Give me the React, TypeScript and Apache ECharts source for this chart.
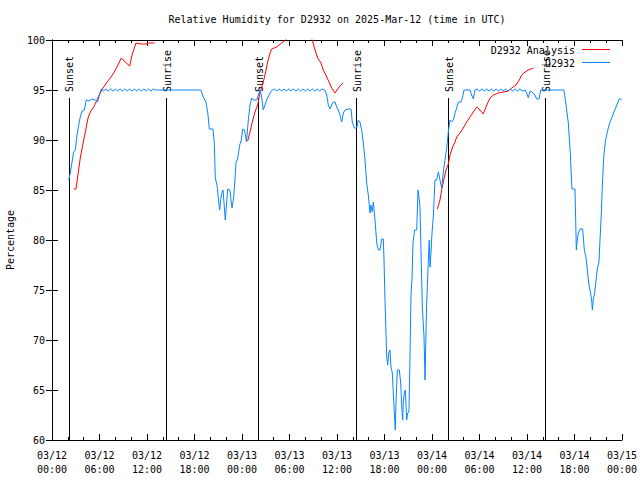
import React, { useEffect, useRef } from 'react';
import * as echarts from 'echarts';

const FONT = '"DejaVu Sans Mono", "Liberation Mono", monospace';

const titleText = 'Relative Humidity for D2932 on 2025-Mar-12 (time in UTC)';
const yAxisName = 'Percentage';
const monthLabel = '03';
const startDay = 12;
const xMin = 0;
const xMax = 72;
const yMin = 60;
const yMax = 100;

const seriesNames = ['D2932 Analysis', 'D2932'];

// sunrise / sunset events: hours since 03/12 00:00 UTC
const sunHours = [2.1, 14.43, 26.06, 38.42, 50.06, 62.3];
const sunLabels = ['Sunset', 'Sunrise', 'Sunset', 'Sunrise', 'Sunset', 'Sunrise'];
const sunLineTop = 94.2;

// D2932 Analysis (hours, %) – three separate runs
const analysisRun1: [number, number][] = [
  [2.74, 85.1], [3.03, 85.1], [3.28, 86.5], [3.57, 88.2], [3.88, 89.5], [4.21, 90.8],
  [4.55, 92.2], [4.84, 92.8], [5.27, 93.3], [5.68, 94.0], [6.1, 94.7], [6.53, 95.3],
  [6.95, 95.8], [7.36, 96.2], [7.79, 96.7], [8.21, 97.3], [8.75, 98.2], [9.26, 97.8],
  [9.81, 97.4], [10.11, 98.5], [10.61, 99.7], [11.28, 99.6], [12.0, 99.6], [12.21, 99.7],
  [12.97, 99.7],
];
const analysisRun2: [number, number][] = [
  [24.72, 89.9], [25.01, 90.8], [25.3, 91.8], [25.64, 92.8], [25.98, 93.5], [26.27, 94.7],
  [26.69, 95.8], [26.99, 96.8], [27.25, 97.8], [27.54, 98.7], [27.75, 99.1], [28.38, 99.3],
  [29.01, 99.7], [29.65, 100.1], [30.32, 100.6], [31.07, 100.9], [31.83, 100.7], [32.59, 100.3],
  [32.88, 100.0], [33.22, 99.0], [33.56, 98.2], [33.98, 97.7], [34.27, 97.0], [34.7, 96.3],
  [34.99, 95.8], [35.33, 95.2], [35.75, 94.7], [36.09, 95.1], [36.47, 95.5], [36.8, 95.7],
];
const analysisRun3: [number, number][] = [
  [48.67, 83.1], [49.01, 84.0], [49.22, 85.0], [49.43, 85.8], [49.77, 87.0], [50.06, 87.6],
  [50.27, 88.5], [50.61, 89.3], [50.91, 89.8], [51.12, 90.3], [51.54, 90.7], [51.95, 91.2],
  [52.38, 91.8], [52.8, 92.3], [53.22, 92.8], [53.65, 93.3], [54.06, 93.0], [54.48, 92.6],
  [54.91, 93.5], [55.33, 94.2], [55.75, 94.5], [56.38, 94.7], [57.01, 94.8], [57.64, 94.9],
  [58.07, 95.2], [58.61, 95.5], [59.03, 96.0], [59.33, 96.5], [59.75, 96.8], [60.17, 97.0],
  [60.8, 97.2],
];

// D2932 observations (hours, %)
const observations: [number, number][] = [
  [2.11, 86.0], [2.31, 86.7], [2.53, 87.8], [2.74, 88.8], [2.94, 89.0], [3.16, 90.5],
  [3.37, 91.5], [3.57, 92.3], [3.79, 92.9], [4.08, 93.0], [4.33, 94.0], [4.64, 93.9],
  [5.05, 94.1], [5.47, 94.0], [5.77, 93.8], [5.97, 94.5], [6.23, 95.1],
  [6.5, 94.9], [6.8, 95.1], [7.1, 94.9], [7.4, 95.1], [7.7, 94.9], [8.0, 95.1], [8.3, 94.9],
  [8.6, 95.1], [8.9, 94.9], [9.2, 95.1], [9.5, 94.9], [9.8, 95.1], [10.1, 94.9], [10.4, 95.1],
  [10.7, 94.9], [11.0, 95.1], [11.3, 94.9], [11.6, 95.1], [11.9, 94.9], [12.2, 95.1],
  [12.5, 94.9], [12.8, 95.1], [13.1, 95.0], [18.8, 95.0],
  [19.16, 94.2], [19.45, 93.8], [19.71, 92.5], [19.87, 91.1], [20.34, 91.1], [20.5, 89.7],
  [20.63, 86.2], [20.84, 85.5], [21.06, 83.8], [21.18, 83.0], [21.35, 84.3], [21.47, 84.7],
  [21.6, 85.0], [21.73, 83.7], [21.89, 82.0], [22.02, 83.3], [22.19, 85.1], [22.48, 85.0],
  [22.61, 84.0], [22.74, 83.2], [22.95, 84.3], [23.08, 85.7], [23.24, 87.7], [23.46, 88.2],
  [23.71, 89.5], [23.91, 90.0], [24.09, 91.1], [24.32, 91.0], [24.57, 89.8], [24.8, 92.0],
  [25.01, 93.5], [25.23, 94.2], [25.43, 94.0], [25.86, 94.0], [26.06, 94.5], [26.27, 95.0],
  [26.46, 94.4], [26.69, 93.0], [26.9, 93.5], [27.12, 94.0], [27.54, 94.7], [27.83, 95.0],
  [28.1, 95.1], [28.4, 94.9], [28.7, 95.1], [29.0, 94.9], [29.3, 95.1], [29.6, 94.9],
  [29.9, 95.1], [30.2, 94.9], [30.5, 95.1], [30.8, 94.9], [31.1, 95.1], [31.4, 94.9],
  [31.7, 95.1], [32.0, 94.9], [32.3, 95.1], [32.6, 94.9], [32.9, 95.1], [33.2, 94.9],
  [33.5, 95.1], [33.8, 94.9], [34.1, 95.1], [34.45, 95.0],
  [34.7, 94.5], [34.9, 93.5], [35.12, 93.1], [35.33, 93.5], [35.53, 93.8], [35.75, 93.8],
  [35.96, 93.3], [36.16, 93.0], [36.38, 92.5], [36.59, 91.8], [36.8, 92.7], [37.01, 93.0],
  [37.43, 93.1], [37.77, 93.1], [37.93, 91.8], [38.19, 91.2], [38.49, 91.2], [38.69, 92.0],
  [38.9, 91.8], [39.12, 91.0], [39.32, 89.7], [39.54, 88.0], [39.75, 85.7], [39.95, 84.5],
  [40.17, 82.7], [40.29, 83.5], [40.46, 82.8], [40.59, 83.8], [40.8, 82.0], [41.02, 79.7],
  [41.22, 79.0], [41.43, 79.0], [41.65, 80.1], [41.85, 80.1], [41.94, 78.0], [42.06, 74.0],
  [42.19, 70.7], [42.28, 68.3], [42.4, 67.5], [42.53, 68.7], [42.69, 69.0], [42.82, 67.3],
  [42.99, 66.7], [43.11, 64.7], [43.24, 62.7], [43.36, 61.0], [43.45, 63.7], [43.62, 67.0],
  [43.87, 67.0], [44.05, 65.7], [44.17, 63.5], [44.3, 62.0], [44.37, 63.7], [44.5, 64.7],
  [44.63, 65.0], [44.8, 62.0], [44.93, 62.7], [45.09, 62.8], [45.22, 68.3], [45.35, 74.7],
  [45.47, 76.0], [45.6, 79.7], [45.81, 81.0], [46.07, 81.0], [46.23, 85.0], [46.36, 84.3],
  [46.48, 83.3], [46.61, 79.0], [46.78, 73.3], [46.99, 70.3], [47.12, 66.0], [47.21, 69.7],
  [47.33, 73.7], [47.46, 76.3], [47.59, 79.0], [47.66, 80.0], [47.75, 77.3], [47.87, 78.7],
  [48.0, 80.7], [48.16, 82.3], [48.38, 86.0], [48.59, 86.0], [48.8, 86.8], [49.01, 86.0],
  [49.22, 85.2], [49.43, 86.8], [49.64, 88.0], [49.86, 89.2], [50.06, 90.8], [50.27, 92.0],
  [50.48, 91.8], [50.69, 92.0], [50.91, 92.7], [51.12, 93.2], [51.32, 93.8], [51.66, 93.8],
  [51.83, 94.2], [52.04, 95.0], [52.8, 95.0], [53.01, 94.5], [53.22, 94.1], [53.43, 95.0],
  [53.7, 95.1], [54.0, 94.9], [54.3, 95.1], [54.6, 94.9], [54.9, 95.1], [55.2, 94.9],
  [55.5, 95.1], [55.8, 94.9], [56.1, 95.1], [56.4, 94.9], [56.7, 95.1], [57.0, 94.9],
  [57.3, 95.1], [57.6, 94.9], [57.9, 95.1], [58.2, 94.9], [58.5, 95.1], [58.8, 94.9],
  [59.1, 95.1], [59.4, 94.9], [59.75, 95.0],
  [59.96, 94.7], [60.17, 94.2], [60.38, 94.9], [60.63, 94.8], [61.0, 94.5], [61.22, 94.1],
  [61.52, 94.1], [61.73, 95.0], [64.67, 95.0],
  [64.93, 93.5], [65.09, 92.5], [65.22, 91.7], [65.34, 90.2], [65.47, 88.7], [65.56, 87.0],
  [65.68, 85.1], [66.06, 85.1], [66.15, 82.0], [66.23, 79.0], [66.35, 80.0], [66.48, 80.7],
  [66.69, 81.1], [67.03, 81.1], [67.24, 79.0], [67.45, 78.3], [67.62, 77.0], [67.79, 75.7],
  [67.96, 75.0], [68.17, 74.0], [68.25, 73.0], [68.37, 74.0], [68.55, 74.7], [68.72, 76.0],
  [68.88, 77.1], [69.09, 77.8], [69.22, 80.0], [69.39, 82.7], [69.51, 85.3], [69.69, 88.3],
  [69.89, 89.8], [70.14, 90.8], [70.48, 91.8], [70.7, 92.2], [70.99, 92.8], [71.24, 93.3],
  [71.45, 93.7], [71.64, 94.1], [71.95, 94.1],
];

const RED = '#ff0000';
const BLUE = '#0a84ff';

const pad = (n: number) => (n < 10 ? '0' + n : '' + n);
const xLabel = (v: number) => {
  const day = startDay + Math.floor(v / 24);
  const hr = v % 24;
  return `${monthLabel}/${day}\n${pad(hr)}:00`;
};

export default function App() {
  const ref = useRef<HTMLDivElement>(null);
  useEffect(() => {
    if (!ref.current) return;
    const chart = echarts.init(ref.current, undefined, { renderer: 'svg' });
    const textStyle = { fontFamily: FONT, fontSize: 10, color: '#000' };
    const baseX = {
      type: 'value',
      min: xMin,
      max: xMax,
      interval: 6,
      axisLine: { show: true, lineStyle: { color: '#000', width: 1 } },
      axisTick: { show: true, inside: true, length: 6, lineStyle: { color: '#000' } },
      minorTick: { show: true, splitNumber: 3, length: 3, lineStyle: { color: '#000' } },
      splitLine: { show: false },
      minorSplitLine: { show: false },
    };
    const baseY = {
      type: 'value',
      min: yMin,
      max: yMax,
      interval: 5,
      axisLine: { show: true, lineStyle: { color: '#000', width: 1 } },
      axisTick: { show: true, inside: true, length: 6, lineStyle: { color: '#000' } },
      splitLine: { show: false },
    };
    const lineSeries = (name: string, data: [number, number][], color: string) => ({
      name,
      type: 'line',
      data,
      showSymbol: false,
      symbol: 'none',
      clip: true,
      lineStyle: { color, width: 1 },
      itemStyle: { color },
      emphasis: { disabled: true },
    });
    chart.setOption({
      animation: false,
      backgroundColor: '#fff',
      title: {
        text: titleText,
        left: 337,
        textAlign: 'center',
        top: 14,
        padding: 0,
        textStyle: { ...textStyle, fontWeight: 'normal' },
      },
      grid: { left: 52, right: 18, top: 40, bottom: 40, containLabel: false, outerBoundsMode: 'none' },
      xAxis: [
        {
          ...baseX,
          position: 'bottom',
          axisLabel: {
            ...textStyle,
            margin: 8,
            lineHeight: 14,
            showMinLabel: true,
            showMaxLabel: true,
            hideOverlap: false,
            formatter: xLabel,
          },
        },
        { ...baseX, position: 'top', axisLabel: { show: false } },
      ],
      yAxis: [
        {
          ...baseY,
          position: 'left',
          name: yAxisName,
          nameLocation: 'middle',
          nameGap: 37,
          nameRotate: 90,
          nameTextStyle: { ...textStyle },
          axisLabel: { ...textStyle, margin: 7 },
        },
        { ...baseY, position: 'right', axisLabel: { show: false } },
      ],
      graphic: [
        {
          type: 'text',
          x: 575,
          y: 50,
          style: { text: seriesNames[0], font: `10px ${FONT}`, fill: '#000', align: 'right', verticalAlign: 'middle' },
        },
        {
          type: 'line',
          shape: { x1: 582, y1: 49.5, x2: 610, y2: 49.5 },
          style: { stroke: RED, lineWidth: 1 },
        },
        {
          type: 'text',
          x: 575,
          y: 63,
          style: { text: seriesNames[1], font: `10px ${FONT}`, fill: '#000', align: 'right', verticalAlign: 'middle' },
        },
        {
          type: 'line',
          shape: { x1: 582, y1: 62.5, x2: 610, y2: 62.5 },
          style: { stroke: BLUE, lineWidth: 1 },
        },
      ],
      series: [
        {
          type: 'custom',
          name: 'sun',
          data: sunHours.map((h) => [h, sunLineTop]),
          z: 1,
          renderItem: (params: any, api: any) => {
            const h = api.value(0);
            const top = api.coord([h, api.value(1)]);
            const bottom = api.coord([h, yMin]);
            const lab = api.coord([h, 94.8]);
            const x = Math.round(top[0]) + 0.5;
            return {
              type: 'group',
              children: [
                {
                  type: 'line',
                  shape: { x1: x, y1: top[1], x2: x, y2: bottom[1] },
                  style: { stroke: '#000', lineWidth: 1 },
                },
                {
                  type: 'text',
                  x: lab[0] + 1,
                  y: lab[1],
                  rotation: Math.PI / 2,
                  style: {
                    text: sunLabels[params.dataIndex],
                    fill: '#000',
                    font: `10px ${FONT}`,
                    align: 'left',
                    verticalAlign: 'middle',
                  },
                },
              ],
            };
          },
        },
        lineSeries(seriesNames[0], analysisRun1, RED),
        lineSeries(seriesNames[0], analysisRun2, RED),
        lineSeries(seriesNames[0], analysisRun3, RED),
        lineSeries(seriesNames[1], observations, BLUE),
      ],
    });
    return () => chart.dispose();
  }, []);
  return (
    <div
      ref={ref}
      style={{ position: 'fixed', left: 0, top: 0, width: 640, height: 480, background: '#fff' }}
    />
  );
}
